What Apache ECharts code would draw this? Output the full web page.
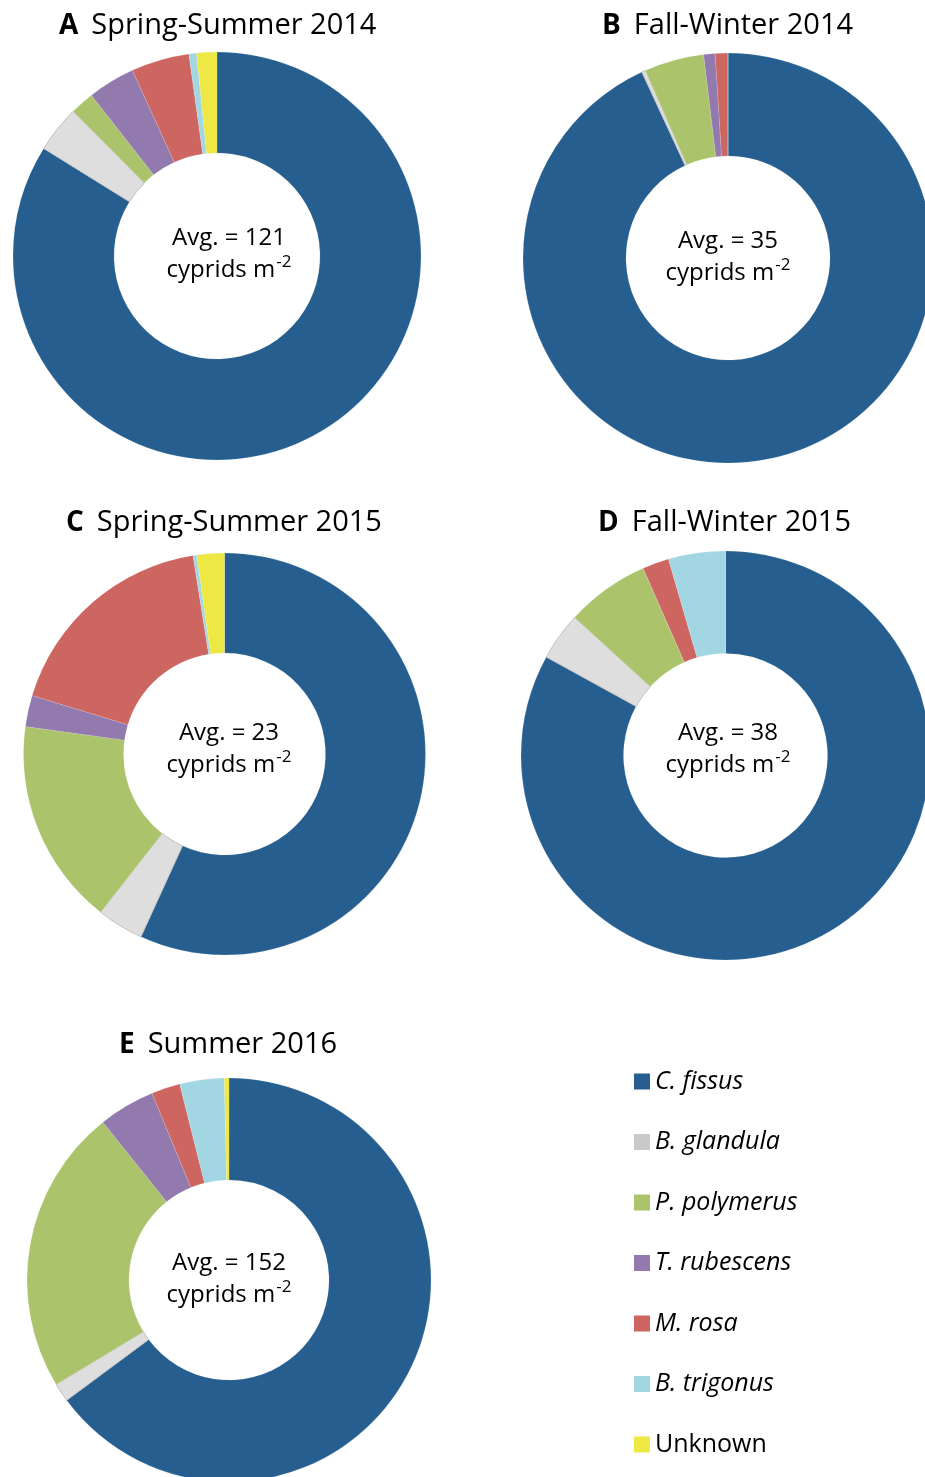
<!DOCTYPE html>
<html lang="en">
<head>
<meta charset="UTF-8">
<title>Cyprid composition</title>
<script src="https://cdn.jsdelivr.net/npm/echarts@6/dist/echarts.min.js"></script>
<style>
  html, body { margin: 0; padding: 0; background: #fff; }
  #chart { width: 925px; height: 1477px; }
</style>
</head>
<body>
<div id="chart"></div>
<script>
// species in the order they go round each donut (clockwise from 12 o'clock)
var species = ['C. fissus', 'B. glandula', 'P. polymerus', 'T. rubescens', 'M. rosa', 'B. trigonus', 'Unknown'];
var speciesColors = ['#265f8f', '#dedede', '#abc46c', '#9279ae', '#cd6660', '#a3d6e3', '#ede843'];

var panelLetters = ['A', 'B', 'C', 'D', 'E'];
var panelTitles = ['Spring-Summer 2014', 'Fall-Winter 2014', 'Spring-Summer 2015', 'Fall-Winter 2015', 'Summer 2016'];
var avgCyprids = [121, 35, 23, 38, 152];

// percent of cyprids per species
var springSummer2014 = [83.8, 3.7, 1.9, 3.75, 4.6, 0.6, 1.6];
var fallWinter2014   = [93.1, 0.3, 4.7, 0.9, 1.0, 0, 0];
var springSummer2015 = [56.8, 3.75, 16.6, 2.5, 17.8, 0.3, 2.2];
var fallWinter2015   = [83.0, 3.8, 6.6, 0, 2.1, 4.5, 0];
var summer2016       = [64.8, 1.5, 22.9, 4.5, 2.3, 3.55, 0.37];

var panelValues = [springSummer2014, fallWinter2014, springSummer2015, fallWinter2015, summer2016];

// layout
var pieCenters = [[217, 256], [728, 258], [224.5, 754], [725.5, 755.5], [229, 1280]];
var pieRadii = [[103, 204], [102, 205], [101, 201], [102, 204.5], [100, 202]];
var titlePos = [[59, 26], [602, 26], [66, 523], [598, 523], [119, 1045]];
var avgPos = [[229, 254], [728, 257], [229, 749], [728, 749], [229, 1279]];

var FONT = '"Open Sans", sans-serif';

var myChart = echarts.init(document.getElementById('chart'));

var series = [];
var graphics = [];
for (var i = 0; i < panelValues.length; i++) {
    series.push({
        type: 'pie',
        center: pieCenters[i],
        radius: pieRadii[i],
        startAngle: 90,
        clockwise: true,
        silent: true,
        avoidLabelOverlap: false,
        label: { show: false },
        labelLine: { show: false },
        data: species.map(function (name, k) {
            return {
                name: name,
                value: panelValues[i][k],
                itemStyle: {
                    color: speciesColors[k],
                    borderColor: k === 1 ? '#c2c2c2' : 'rgba(255,255,255,0.25)',
                    borderWidth: k === 1 ? 1 : 0.5
                }
            };
        })
    });

    graphics.push({
        type: 'text',
        x: titlePos[i][0],
        y: titlePos[i][1],
        style: {
            text: '{b|' + panelLetters[i] + '}{t|' + panelTitles[i] + '}',
            verticalAlign: 'middle',
            rich: {
                b: { fontFamily: FONT, fontSize: 28, fontWeight: 'bold', fill: '#000', padding: [0, 13, 0, 0] },
                t: { fontFamily: FONT, fontSize: 29, fill: '#000' }
            }
        }
    });

    graphics.push({
        type: 'text',
        x: avgPos[i][0],
        y: avgPos[i][1],
        style: {
            text: '{a|Avg. = ' + avgCyprids[i] + '}\n{a|cyprids m}{s|-2}',
            align: 'center',
            verticalAlign: 'middle',
            rich: {
                a: { fontFamily: FONT, fontSize: 24, lineHeight: 32, fill: '#000' },
                s: { fontFamily: FONT, fontSize: 17, lineHeight: 32, verticalAlign: 'top', fill: '#000', padding: [0, 0, 0, 1] }
            }
        }
    });
}

var option = {
    animation: false,
    backgroundColor: '#fff',
    legend: {
        data: species.map(function (name, k) {
            return { name: name, itemStyle: { color: k === 1 ? '#c9c9c9' : speciesColors[k], borderWidth: 0 } };
        }),
        orient: 'vertical',
        left: 634,
        top: 1069,
        padding: 0,
        itemWidth: 16,
        itemHeight: 16,
        itemGap: 35.5,
        icon: 'rect',
        selectedMode: false,
        formatter: function (name) {
            return name === 'Unknown' ? '{n|' + name + '}' : '{i|' + name + '}';
        },
        textStyle: {
            rich: {
                i: { fontFamily: FONT, fontSize: 25, fontStyle: 'italic', lineHeight: 24, color: '#000' },
                n: { fontFamily: FONT, fontSize: 25, lineHeight: 24, color: '#000' }
            }
        }
    },
    series: series,
    graphic: graphics
};

myChart.setOption(option);
</script>
</body>
</html>
